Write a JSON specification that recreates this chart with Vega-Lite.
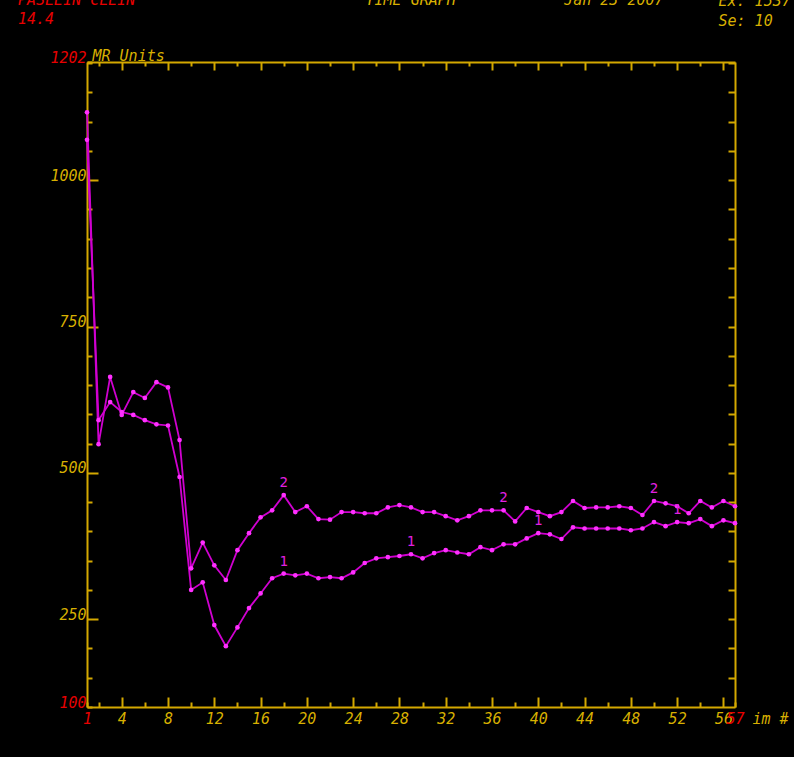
{
  "$schema": "https://vega.github.io/schema/vega-lite/v6.json",
  "width": 648,
  "height": 645,
  "autosize": {"type": "none"},
  "padding": {"left": 87, "top": 62, "right": 59, "bottom": 50},
  "background": "black",
  "title": {
    "text": "PASLEIN CLEIN",
    "subtitle": "14.4",
    "anchor": "start",
    "frame": "group",
    "dx": -69,
    "offset": -35,
    "color": "#e80000",
    "subtitleColor": "#e80000",
    "font": "DejaVu Sans Mono",
    "fontStyle": "italic",
    "fontWeight": "normal",
    "fontSize": 15,
    "subtitleFont": "DejaVu Sans Mono",
    "subtitleFontStyle": "italic",
    "subtitleFontSize": 15,
    "subtitlePadding": 4
  },
  "data": {
    "values": [
      {"i": 1, "s": "2", "v": 1116}, {"i": 2, "s": "2", "v": 549}, {"i": 3, "s": "2", "v": 664}, {"i": 4, "s": "2", "v": 599},
      {"i": 5, "s": "2", "v": 638}, {"i": 6, "s": "2", "v": 628}, {"i": 7, "s": "2", "v": 655}, {"i": 8, "s": "2", "v": 646},
      {"i": 9, "s": "2", "v": 556}, {"i": 10, "s": "2", "v": 337}, {"i": 11, "s": "2", "v": 381}, {"i": 12, "s": "2", "v": 342},
      {"i": 13, "s": "2", "v": 317}, {"i": 14, "s": "2", "v": 368}, {"i": 15, "s": "2", "v": 397}, {"i": 16, "s": "2", "v": 424},
      {"i": 17, "s": "2", "v": 436}, {"i": 18, "s": "2", "v": 462, "label": "2"}, {"i": 19, "s": "2", "v": 433}, {"i": 20, "s": "2", "v": 443},
      {"i": 21, "s": "2", "v": 421}, {"i": 22, "s": "2", "v": 420}, {"i": 23, "s": "2", "v": 433}, {"i": 24, "s": "2", "v": 433},
      {"i": 25, "s": "2", "v": 431}, {"i": 26, "s": "2", "v": 431}, {"i": 27, "s": "2", "v": 441}, {"i": 28, "s": "2", "v": 445},
      {"i": 29, "s": "2", "v": 441}, {"i": 30, "s": "2", "v": 433}, {"i": 31, "s": "2", "v": 433}, {"i": 32, "s": "2", "v": 426},
      {"i": 33, "s": "2", "v": 419}, {"i": 34, "s": "2", "v": 426}, {"i": 35, "s": "2", "v": 436}, {"i": 36, "s": "2", "v": 436},
      {"i": 37, "s": "2", "v": 436, "label": "2"}, {"i": 38, "s": "2", "v": 417}, {"i": 39, "s": "2", "v": 440}, {"i": 40, "s": "2", "v": 433},
      {"i": 41, "s": "2", "v": 426}, {"i": 42, "s": "2", "v": 433}, {"i": 43, "s": "2", "v": 452}, {"i": 44, "s": "2", "v": 440},
      {"i": 45, "s": "2", "v": 441}, {"i": 46, "s": "2", "v": 441}, {"i": 47, "s": "2", "v": 443}, {"i": 48, "s": "2", "v": 440},
      {"i": 49, "s": "2", "v": 428}, {"i": 50, "s": "2", "v": 452, "label": "2"}, {"i": 51, "s": "2", "v": 448}, {"i": 52, "s": "2", "v": 443},
      {"i": 53, "s": "2", "v": 431}, {"i": 54, "s": "2", "v": 452}, {"i": 55, "s": "2", "v": 441}, {"i": 56, "s": "2", "v": 452},
      {"i": 57, "s": "2", "v": 443},
      {"i": 1, "s": "1", "v": 1069}, {"i": 2, "s": "1", "v": 590}, {"i": 3, "s": "1", "v": 621}, {"i": 4, "s": "1", "v": 604},
      {"i": 5, "s": "1", "v": 599}, {"i": 6, "s": "1", "v": 590}, {"i": 7, "s": "1", "v": 583}, {"i": 8, "s": "1", "v": 581},
      {"i": 9, "s": "1", "v": 493}, {"i": 10, "s": "1", "v": 300}, {"i": 11, "s": "1", "v": 313}, {"i": 12, "s": "1", "v": 240},
      {"i": 13, "s": "1", "v": 204}, {"i": 14, "s": "1", "v": 236}, {"i": 15, "s": "1", "v": 269}, {"i": 16, "s": "1", "v": 294},
      {"i": 17, "s": "1", "v": 320}, {"i": 18, "s": "1", "v": 328, "label": "1"}, {"i": 19, "s": "1", "v": 325}, {"i": 20, "s": "1", "v": 328},
      {"i": 21, "s": "1", "v": 320}, {"i": 22, "s": "1", "v": 322}, {"i": 23, "s": "1", "v": 320}, {"i": 24, "s": "1", "v": 330},
      {"i": 25, "s": "1", "v": 346}, {"i": 26, "s": "1", "v": 354}, {"i": 27, "s": "1", "v": 356}, {"i": 28, "s": "1", "v": 358},
      {"i": 29, "s": "1", "v": 361, "label": "1"}, {"i": 30, "s": "1", "v": 354}, {"i": 31, "s": "1", "v": 363}, {"i": 32, "s": "1", "v": 368},
      {"i": 33, "s": "1", "v": 364}, {"i": 34, "s": "1", "v": 361}, {"i": 35, "s": "1", "v": 373}, {"i": 36, "s": "1", "v": 368},
      {"i": 37, "s": "1", "v": 378}, {"i": 38, "s": "1", "v": 378}, {"i": 39, "s": "1", "v": 388}, {"i": 40, "s": "1", "v": 397, "label": "1"},
      {"i": 41, "s": "1", "v": 395}, {"i": 42, "s": "1", "v": 387}, {"i": 43, "s": "1", "v": 407}, {"i": 44, "s": "1", "v": 405},
      {"i": 45, "s": "1", "v": 405}, {"i": 46, "s": "1", "v": 405}, {"i": 47, "s": "1", "v": 405}, {"i": 48, "s": "1", "v": 402},
      {"i": 49, "s": "1", "v": 405}, {"i": 50, "s": "1", "v": 416}, {"i": 51, "s": "1", "v": 409}, {"i": 52, "s": "1", "v": 416, "label": "1"},
      {"i": 53, "s": "1", "v": 414}, {"i": 54, "s": "1", "v": 421}, {"i": 55, "s": "1", "v": 409}, {"i": 56, "s": "1", "v": 419},
      {"i": 57, "s": "1", "v": 414}
    ]
  },
  "layer": [
    {
      "mark": {"type": "line", "color": "#d000d0", "strokeWidth": 1.8},
      "encoding": {
        "x": {
          "field": "i", "type": "quantitative",
          "scale": {"domain": [1, 57], "nice": false, "zero": false},
          "axis": {
            "orient": "bottom",
            "values": [1, 2, 4, 6, 8, 10, 12, 14, 16, 18, 20, 22, 24, 26, 28, 30, 32, 34, 36, 38, 40, 42, 44, 46, 48, 50, 52, 54, 56, 57],
            "format": "d",
            "labelExpr": "datum.value % 4 === 0 || datum.value === 1 || datum.value === 57 ? datum.label : ''",
            "labelColor": {"condition": {"test": "datum.value === 1 || datum.value === 57", "value": "#e80000"}, "value": "#d8b000"},
            "tickSize": {"condition": {"test": "datum.value % 4 === 0", "value": -10}, "value": -5},
            "labelPadding": {"condition": {"test": "datum.value % 4 === 0", "value": 14}, "value": 9},
            "labelBaseline": "top",
            "labelOverlap": false,
            "labelFlush": false,
            "labelBound": false,
            "title": "im #",
            "titleX": 665,
            "titleY": 11,
            "titleAlign": "left",
            "titleBaseline": "middle"
          }
        },
        "y": {
          "field": "v", "type": "quantitative",
          "scale": {"domain": [100, 1202], "nice": false, "zero": false},
          "axis": {
            "orient": "left",
            "values": [100, 150, 200, 250, 300, 350, 400, 450, 500, 550, 600, 650, 700, 750, 800, 850, 900, 950, 1000, 1050, 1100, 1150, 1200, 1202],
            "format": "d",
            "labelExpr": "datum.value % 250 === 0 || datum.value === 100 || datum.value === 1202 ? datum.label : ''",
            "labelColor": {"condition": {"test": "datum.value === 100 || datum.value === 1202", "value": "#e80000"}, "value": "#d8b000"},
            "tickSize": {"condition": {"test": "datum.value % 250 === 0", "value": -11}, "value": -5},
            "labelPadding": {"condition": {"test": "datum.value % 250 === 0", "value": 12}, "value": 6},
            "labelBaseline": "alphabetic",
            "labelOverlap": false,
            "labelFlush": false,
            "labelBound": false,
            "title": "MR Units",
            "titleAngle": 0,
            "titleX": 5,
            "titleY": -2,
            "titleAlign": "left",
            "titleBaseline": "alphabetic"
          }
        },
        "detail": {"field": "s"}
      }
    },
    {
      "mark": {"type": "point", "filled": true, "size": 22, "color": "#ff30ff", "opacity": 1},
      "encoding": {
        "x": {
          "field": "i", "type": "quantitative",
          "axis": {
            "orient": "top",
            "values": [2, 4, 6, 8, 10, 12, 14, 16, 18, 20, 22, 24, 26, 28, 30, 32, 34, 36, 38, 40, 42, 44, 46, 48, 50, 52, 54, 56],
            "labels": false,
            "tickSize": {"condition": {"test": "datum.value % 4 === 0", "value": -8}, "value": -4},
            "title": "TIME GRAPH\u00a0\u00a0\u00a0\u00a0\u00a0\u00a0\u00a0\u00a0\u00a0\u00a0\u00a0\u00a0Jan 23 2007",
            "titleX": 278,
            "titleY": -58,
            "titleAlign": "left",
            "titleBaseline": "alphabetic"
          }
        },
        "y": {
          "field": "v", "type": "quantitative",
          "axis": {
            "orient": "right",
            "values": [150, 200, 250, 300, 350, 400, 450, 500, 550, 600, 650, 700, 750, 800, 850, 900, 950, 1000, 1050, 1100, 1150, 1200],
            "labels": false,
            "tickSize": -7,
            "title": ["Ex: 1537", "Se: 10"],
            "titleAngle": 0,
            "titleX": -17,
            "titleY": -69,
            "titleAlign": "left",
            "titleBaseline": "top",
            "titleLineHeight": 20
          }
        },
        "detail": {"field": "s"}
      }
    },
    {
      "transform": [{"filter": "datum.label != null"}],
      "mark": {"type": "text", "dy": -12, "color": "#e020e0", "font": "DejaVu Sans Mono", "fontSize": 14, "baseline": "middle"},
      "encoding": {
        "x": {"field": "i", "type": "quantitative", "axis": null},
        "y": {"field": "v", "type": "quantitative", "axis": null},
        "text": {"field": "label"}
      }
    }
  ],
  "resolve": {"axis": {"x": "independent", "y": "independent"}},
  "config": {
    "view": {"stroke": null},
    "axis": {
      "grid": false,
      "labelFont": "DejaVu Sans Mono",
      "labelFontStyle": "italic",
      "labelFontSize": 15,
      "titleFont": "DejaVu Sans Mono",
      "titleFontStyle": "italic",
      "titleFontWeight": "normal",
      "titleFontSize": 15,
      "titleColor": "#d8b000",
      "labelColor": "#d8b000",
      "domainColor": "#d4a800",
      "domainWidth": 2,
      "tickColor": "#d4a800",
      "tickWidth": 2
    }
  }
}
